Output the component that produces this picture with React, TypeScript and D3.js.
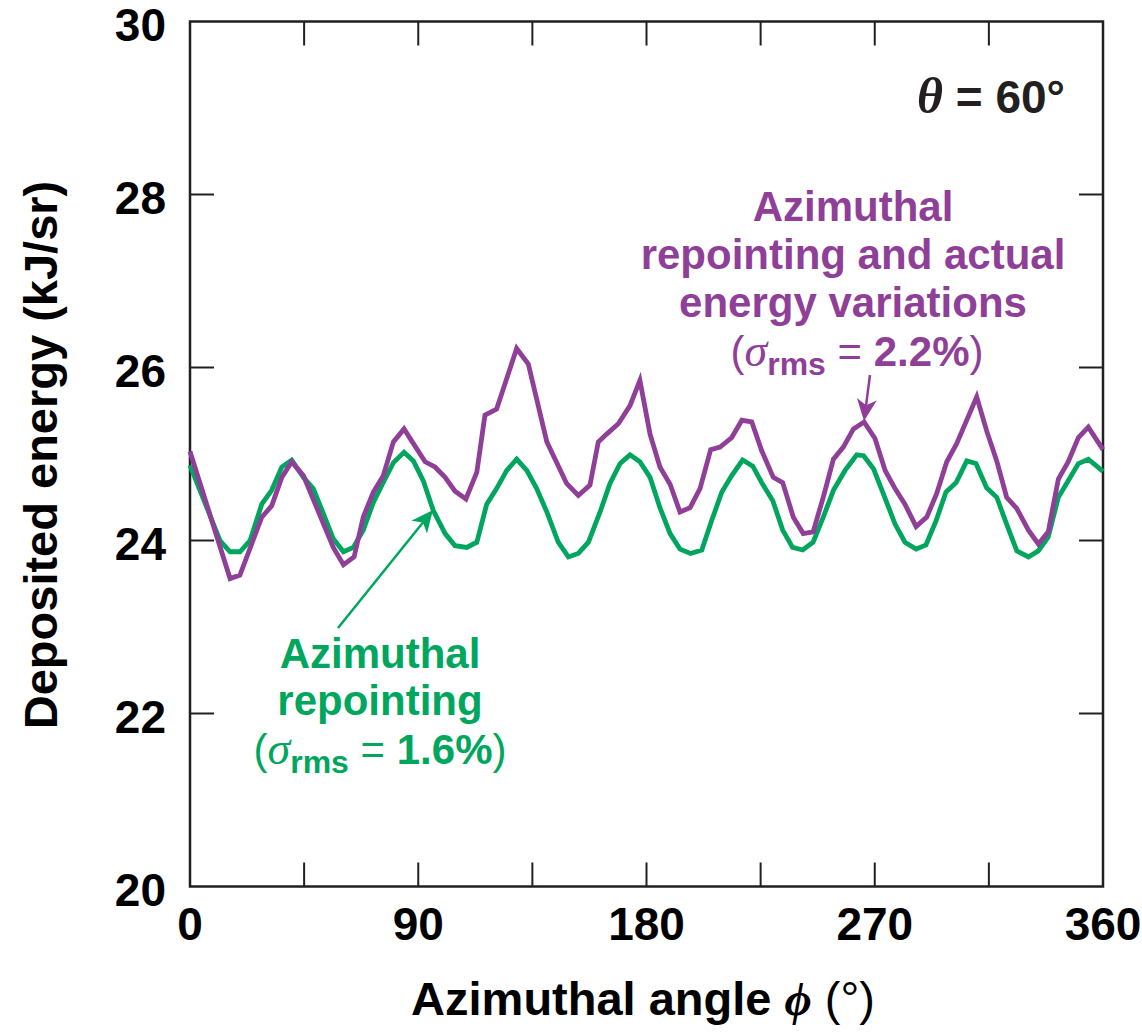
import React from "react";
import * as d3 from "d3";

// Azimuthal angle (deg) and deposited energy (kJ/sr)
const phiActual = [0, 15.8, 19.7, 28.3, 32.2, 36.2, 40.1, 44.7, 56.5, 60.5, 64.7, 68.3, 72.3, 76.2, 80.2, 84.4, 88.1, 92.7, 96.6, 100.6, 104.5, 108.8, 113.1, 116.3, 120.9, 128.8, 133.4, 140.7, 148.5, 153.1, 157.7, 161.0, 164.3, 168.9, 173.5, 177.4, 181.4, 185.3, 189.3, 193.2, 197.2, 201.1, 205.3, 209.0, 213.6, 217.6, 221.5, 225.4, 230.0, 233.7, 237.9, 241.8, 245.7, 249.7, 253.7, 257.6, 261.6, 265.8, 270.1, 274.1, 278.0, 281.9, 286.3, 290.5, 294.4, 298.4, 302.3, 310.2, 314.1, 318.1, 322.0, 326.0, 330.6, 334.5, 338.4, 342.4, 346.3, 350.3, 354.2, 360];
const energyActual = [25.03, 23.56, 23.60, 24.27, 24.40, 24.73, 24.91, 24.75, 23.92, 23.72, 23.81, 24.27, 24.56, 24.75, 25.14, 25.29, 25.12, 24.91, 24.85, 24.73, 24.57, 24.48, 24.79, 25.45, 25.52, 26.22, 26.04, 25.14, 24.66, 24.52, 24.64, 25.14, 25.23, 25.35, 25.56, 25.85, 25.23, 24.85, 24.65, 24.33, 24.38, 24.60, 25.05, 25.08, 25.19, 25.39, 25.37, 25.04, 24.73, 24.67, 24.27, 24.08, 24.10, 24.50, 24.94, 25.08, 25.29, 25.37, 25.18, 24.81, 24.60, 24.42, 24.16, 24.27, 24.54, 24.91, 25.12, 25.66, 25.27, 24.92, 24.50, 24.37, 24.12, 23.96, 24.10, 24.71, 24.91, 25.19, 25.31, 25.05];

const phiRepoint = [0, 11.8, 15.8, 19.7, 23.7, 28.3, 32.2, 36.2, 40.1, 44.7, 48.6, 52.6, 56.5, 60.5, 64.4, 68.3, 72.3, 76.2, 80.2, 84.4, 88.1, 92.0, 95.9, 100.6, 104.5, 109.1, 113.1, 117.0, 120.9, 124.9, 128.8, 132.8, 136.7, 140.7, 145.2, 149.2, 153.1, 157.1, 161.7, 165.6, 169.6, 173.5, 177.4, 181.4, 185.3, 189.3, 193.2, 197.4, 201.8, 205.7, 209.7, 213.6, 217.9, 221.9, 225.8, 229.8, 233.7, 237.6, 241.6, 245.7, 249.7, 253.7, 258.3, 262.9, 265.6, 269.5, 273.4, 278.0, 281.9, 286.3, 290.2, 294.2, 298.1, 302.1, 306.3, 309.9, 314.1, 318.1, 322.0, 326.0, 330.6, 334.5, 338.4, 342.4, 346.3, 350.3, 354.2, 360];
const energyRepoint = [24.87, 24.00, 23.87, 23.87, 24.00, 24.42, 24.58, 24.85, 24.93, 24.73, 24.60, 24.31, 24.02, 23.87, 23.92, 24.12, 24.44, 24.67, 24.90, 25.02, 24.92, 24.69, 24.35, 24.08, 23.94, 23.92, 23.98, 24.42, 24.60, 24.81, 24.94, 24.81, 24.60, 24.33, 23.98, 23.81, 23.85, 23.98, 24.33, 24.66, 24.89, 24.99, 24.91, 24.73, 24.38, 24.08, 23.90, 23.85, 23.89, 24.23, 24.56, 24.75, 24.93, 24.86, 24.65, 24.46, 24.12, 23.92, 23.89, 23.98, 24.27, 24.58, 24.81, 24.99, 24.98, 24.83, 24.54, 24.19, 23.98, 23.90, 23.95, 24.23, 24.56, 24.67, 24.92, 24.89, 24.61, 24.50, 24.19, 23.88, 23.81, 23.88, 24.04, 24.50, 24.69, 24.89, 24.94, 24.80];

const xTicks = [0, 45, 90, 135, 180, 225, 270, 315, 360];
const xTickLabels = [0, 90, 180, 270, 360];
const yTicks = [20, 22, 24, 26, 28, 30];

const PURPLE = "#8f3f97";
const GREEN = "#00a65d";
const AXIS = "#231f20";
const SANS = "'Liberation Sans', Arial, Helvetica, sans-serif";
const SERIF = "'Liberation Serif', 'Times New Roman', serif";

function Arrow({ x1, y1, x2, y2, color }: { x1: number; y1: number; x2: number; y2: number; color: string }) {
  const dx = x2 - x1, dy = y2 - y1;
  const len = Math.hypot(dx, dy);
  const ux = dx / len, uy = dy / len;
  const px = -uy, py = ux;
  const hl = 22, hw = 10, notch = 6;
  const bx = x2 - ux * hl, by = y2 - uy * hl;
  const nx = x2 - ux * (hl - notch), ny = y2 - uy * (hl - notch);
  const pts = [
    [x2, y2],
    [bx + px * hw, by + py * hw],
    [nx, ny],
    [bx - px * hw, by - py * hw],
  ];
  return (
    <g>
      <line x1={x1} y1={y1} x2={nx} y2={ny} stroke={color} strokeWidth={2.5} />
      <polygon points={pts.map((p) => p.join(",")).join(" ")} fill={color} />
    </g>
  );
}

export default function App() {
  const x0 = 190, x1 = 1103, yTop = 21.5, yBot = 886.5;
  const x = d3.scaleLinear().domain([0, 360]).range([x0, x1]);
  const y = d3.scaleLinear().domain([20, 30]).range([yBot, yTop]);
  const line = d3.line<[number, number]>().x((d) => x(d[0])).y((d) => y(d[1]));
  const purplePath = line(phiActual.map((p, i) => [p, energyActual[i]]) as [number, number][]) || "";
  const greenPath = line(phiRepoint.map((p, i) => [p, energyRepoint[i]]) as [number, number][]) || "";
  const tl = 24;
  const fs = 46;
  const afs = 42;

  return (
    <svg width={1142} height={1032} style={{ position: "absolute", left: 0, top: 0, background: "#fff" }}>
      {/* frame */}
      <rect x={x0} y={yTop} width={x1 - x0} height={yBot - yTop} fill="none" stroke={AXIS} strokeWidth={2.5} />
      {xTicks.slice(1, -1).map((t) => (
        <g key={"xt" + t}>
          <line x1={x(t)} x2={x(t)} y1={yBot} y2={yBot - tl} stroke={AXIS} strokeWidth={2} />
          <line x1={x(t)} x2={x(t)} y1={yTop} y2={yTop + tl} stroke={AXIS} strokeWidth={2} />
        </g>
      ))}
      {yTicks.slice(1, -1).map((t) => (
        <g key={"yt" + t}>
          <line x1={x0} x2={x0 + tl} y1={y(t)} y2={y(t)} stroke={AXIS} strokeWidth={2} />
          <line x1={x1} x2={x1 - tl} y1={y(t)} y2={y(t)} stroke={AXIS} strokeWidth={2} />
        </g>
      ))}
      {yTicks.map((t) => (
        <text key={"yl" + t} x={166} y={y(t) + 19} textAnchor="end" fontFamily={SANS} fontWeight="bold" fontSize={fs} fill="#000">
          {t}
        </text>
      ))}
      {xTickLabels.map((t) => (
        <text key={"xl" + t} x={x(t)} y={940} textAnchor="middle" fontFamily={SANS} fontWeight="bold" fontSize={fs} fill="#000">
          {t}
        </text>
      ))}
      {/* axis titles */}
      <text x={643} y={1015} textAnchor="middle" fontFamily={SANS} fontWeight="bold" fontSize={47} fill="#000">
        Azimuthal angle{" "}
        <tspan fontFamily={SERIF} fontStyle="italic" fontWeight="bold">ϕ</tspan>
        <tspan fontWeight="normal"> (°)</tspan>
      </text>
      <text transform="translate(57,455) rotate(-90)" textAnchor="middle" fontFamily={SANS} fontWeight="bold" fontSize={47} fill="#000">
        Deposited energy (kJ/sr)
      </text>
      {/* theta label */}
      <text x={1065} y={113} textAnchor="end" fontFamily={SANS} fontWeight="bold" fontSize={fs} fill="#231f20">
        <tspan fontFamily={SERIF} fontStyle="italic" fontWeight="bold" fontSize={50}>θ</tspan> = 60°
      </text>

      {/* data lines */}
      <path d={greenPath} fill="none" stroke={GREEN} strokeWidth={4.8} strokeLinejoin="miter" />
      <path d={purplePath} fill="none" stroke={PURPLE} strokeWidth={4.8} strokeLinejoin="miter" />

      {/* purple annotation */}
      <g fontFamily={SANS} fontWeight="bold" fontSize={afs} fill={PURPLE} textAnchor="middle">
        <text x={853} y={221}>Azimuthal</text>
        <text x={853} y={269}>repointing and actual</text>
        <text x={853} y={317}>energy variations</text>
        <text x={857} y={366}>
          <tspan fontWeight="normal">(</tspan>
          <tspan fontFamily={SERIF} fontStyle="italic" fontWeight="normal" fontSize={46}>σ</tspan>
          <tspan fontSize={32} dy={9}>rms</tspan>
          <tspan fontWeight="normal" dy={-9}> = </tspan>
          <tspan>2.2%</tspan>
          <tspan fontWeight="normal">)</tspan>
        </text>
      </g>
      <Arrow x1={870} y1={375} x2={864} y2={421} color={PURPLE} />

      {/* green annotation */}
      <g fontFamily={SANS} fontWeight="bold" fontSize={afs} fill={GREEN} textAnchor="middle">
        <text x={380} y={668}>Azimuthal</text>
        <text x={380} y={715}>repointing</text>
        <text x={380} y={764}>
          <tspan fontWeight="normal">(</tspan>
          <tspan fontFamily={SERIF} fontStyle="italic" fontWeight="normal" fontSize={46}>σ</tspan>
          <tspan fontSize={32} dy={9}>rms</tspan>
          <tspan fontWeight="normal" dy={-9}> = </tspan>
          <tspan>1.6%</tspan>
          <tspan fontWeight="normal">)</tspan>
        </text>
      </g>
      <Arrow x1={338} y1={628} x2={433} y2={510} color={GREEN} />
    </svg>
  );
}
